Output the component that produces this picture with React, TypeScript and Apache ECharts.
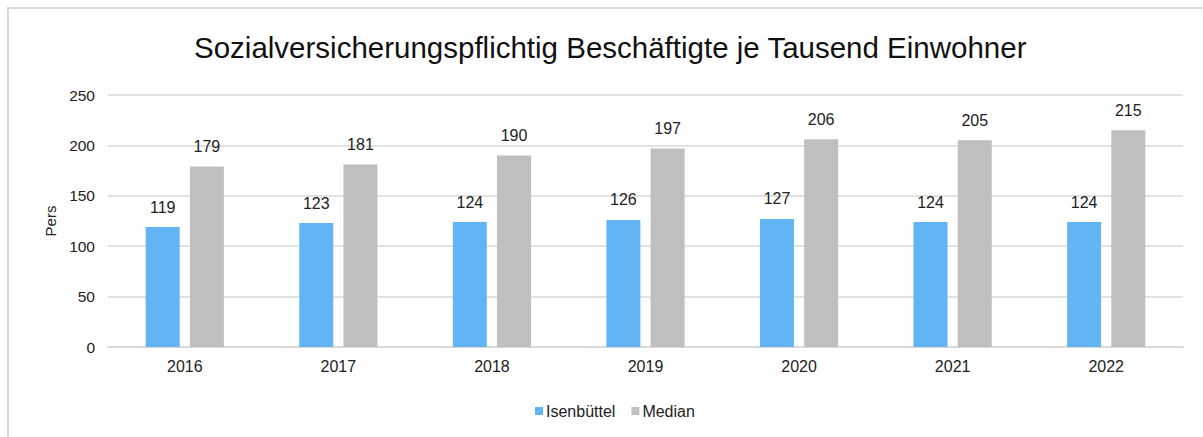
import React, { useEffect, useRef } from "react";
import * as echarts from "echarts";

const years = ["2016", "2017", "2018", "2019", "2020", "2021", "2022"];
const isenbuettel = [119, 123, 124, 126, 127, 124, 124];
const median = [179, 181, 190, 197, 206, 205, 215];
const titleText = "Sozialversicherungspflichtig Beschäftigte je Tausend Einwohner";

export default function App() {
  const ref = useRef<HTMLDivElement>(null);
  useEffect(() => {
    const chart = echarts.init(ref.current!, null, { renderer: "svg" });
    const font = "Arial, 'Liberation Sans', sans-serif";
    const label = {
      show: true,
      position: "top",
      distance: 12,
      color: "#222",
      fontSize: 16,
      fontFamily: font,
    };
    chart.setOption({
      animation: false,
      backgroundColor: "#fff",
      title: {
        text: titleText,
        left: 189,
        top: 27,
        textStyle: { fontSize: 29.5, fontWeight: "normal", color: "#111", fontFamily: font },
      },
      graphic: [
        {
          type: "rect",
          shape: { x: 8, y: 8, width: 1400, height: 600 },
          style: { fill: "none", stroke: "#d9d9d9", lineWidth: 2 },
          silent: true,
        },
      ],
      legend: {
        bottom: 13,
        left: 530,
        itemWidth: 8,
        itemHeight: 8,
        itemGap: 16,
        icon: "rect",
        textStyle: { fontSize: 16, color: "#222", fontFamily: font, padding: [0, 0, 0, -2] },
        data: ["Isenbüttel", "Median"],
      },
      grid: { left: 108, right: 20, top: 95, bottom: 90, containLabel: false },
      xAxis: {
        type: "category",
        data: years,
        axisLine: { lineStyle: { color: "#d9d9d9", width: 2 } },
        axisTick: { show: false },
        axisLabel: { color: "#222", fontSize: 16, fontFamily: font, margin: 11 },
      },
      yAxis: {
        type: "value",
        min: 0,
        max: 250,
        interval: 50,
        name: "Pers",
        nameLocation: "middle",
        nameGap: 50,
        nameRotate: 90,
        nameTextStyle: { color: "#222", fontSize: 15, fontFamily: font },
        axisLine: { show: false },
        axisTick: { show: false },
        axisLabel: { color: "#222", fontSize: 15.5, fontFamily: font, margin: 13 },
        splitLine: { lineStyle: { color: "#d9d9d9", width: 1.5 } },
      },
      series: [
        {
          name: "Isenbüttel",
          type: "bar",
          data: isenbuettel,
          barWidth: 34,
          barGap: "30%",
          itemStyle: { color: "#63b4f5" },
          label,
        },
        {
          name: "Median",
          type: "bar",
          data: median,
          barWidth: 34,
          barGap: "30%",
          itemStyle: { color: "#bfbfbf" },
          label,
        },
      ],
    });
    return () => chart.dispose();
  }, []);
  return (
    <div
      ref={ref}
      style={{ position: "absolute", left: 0, top: 0, width: 1203, height: 437 }}
    />
  );
}
